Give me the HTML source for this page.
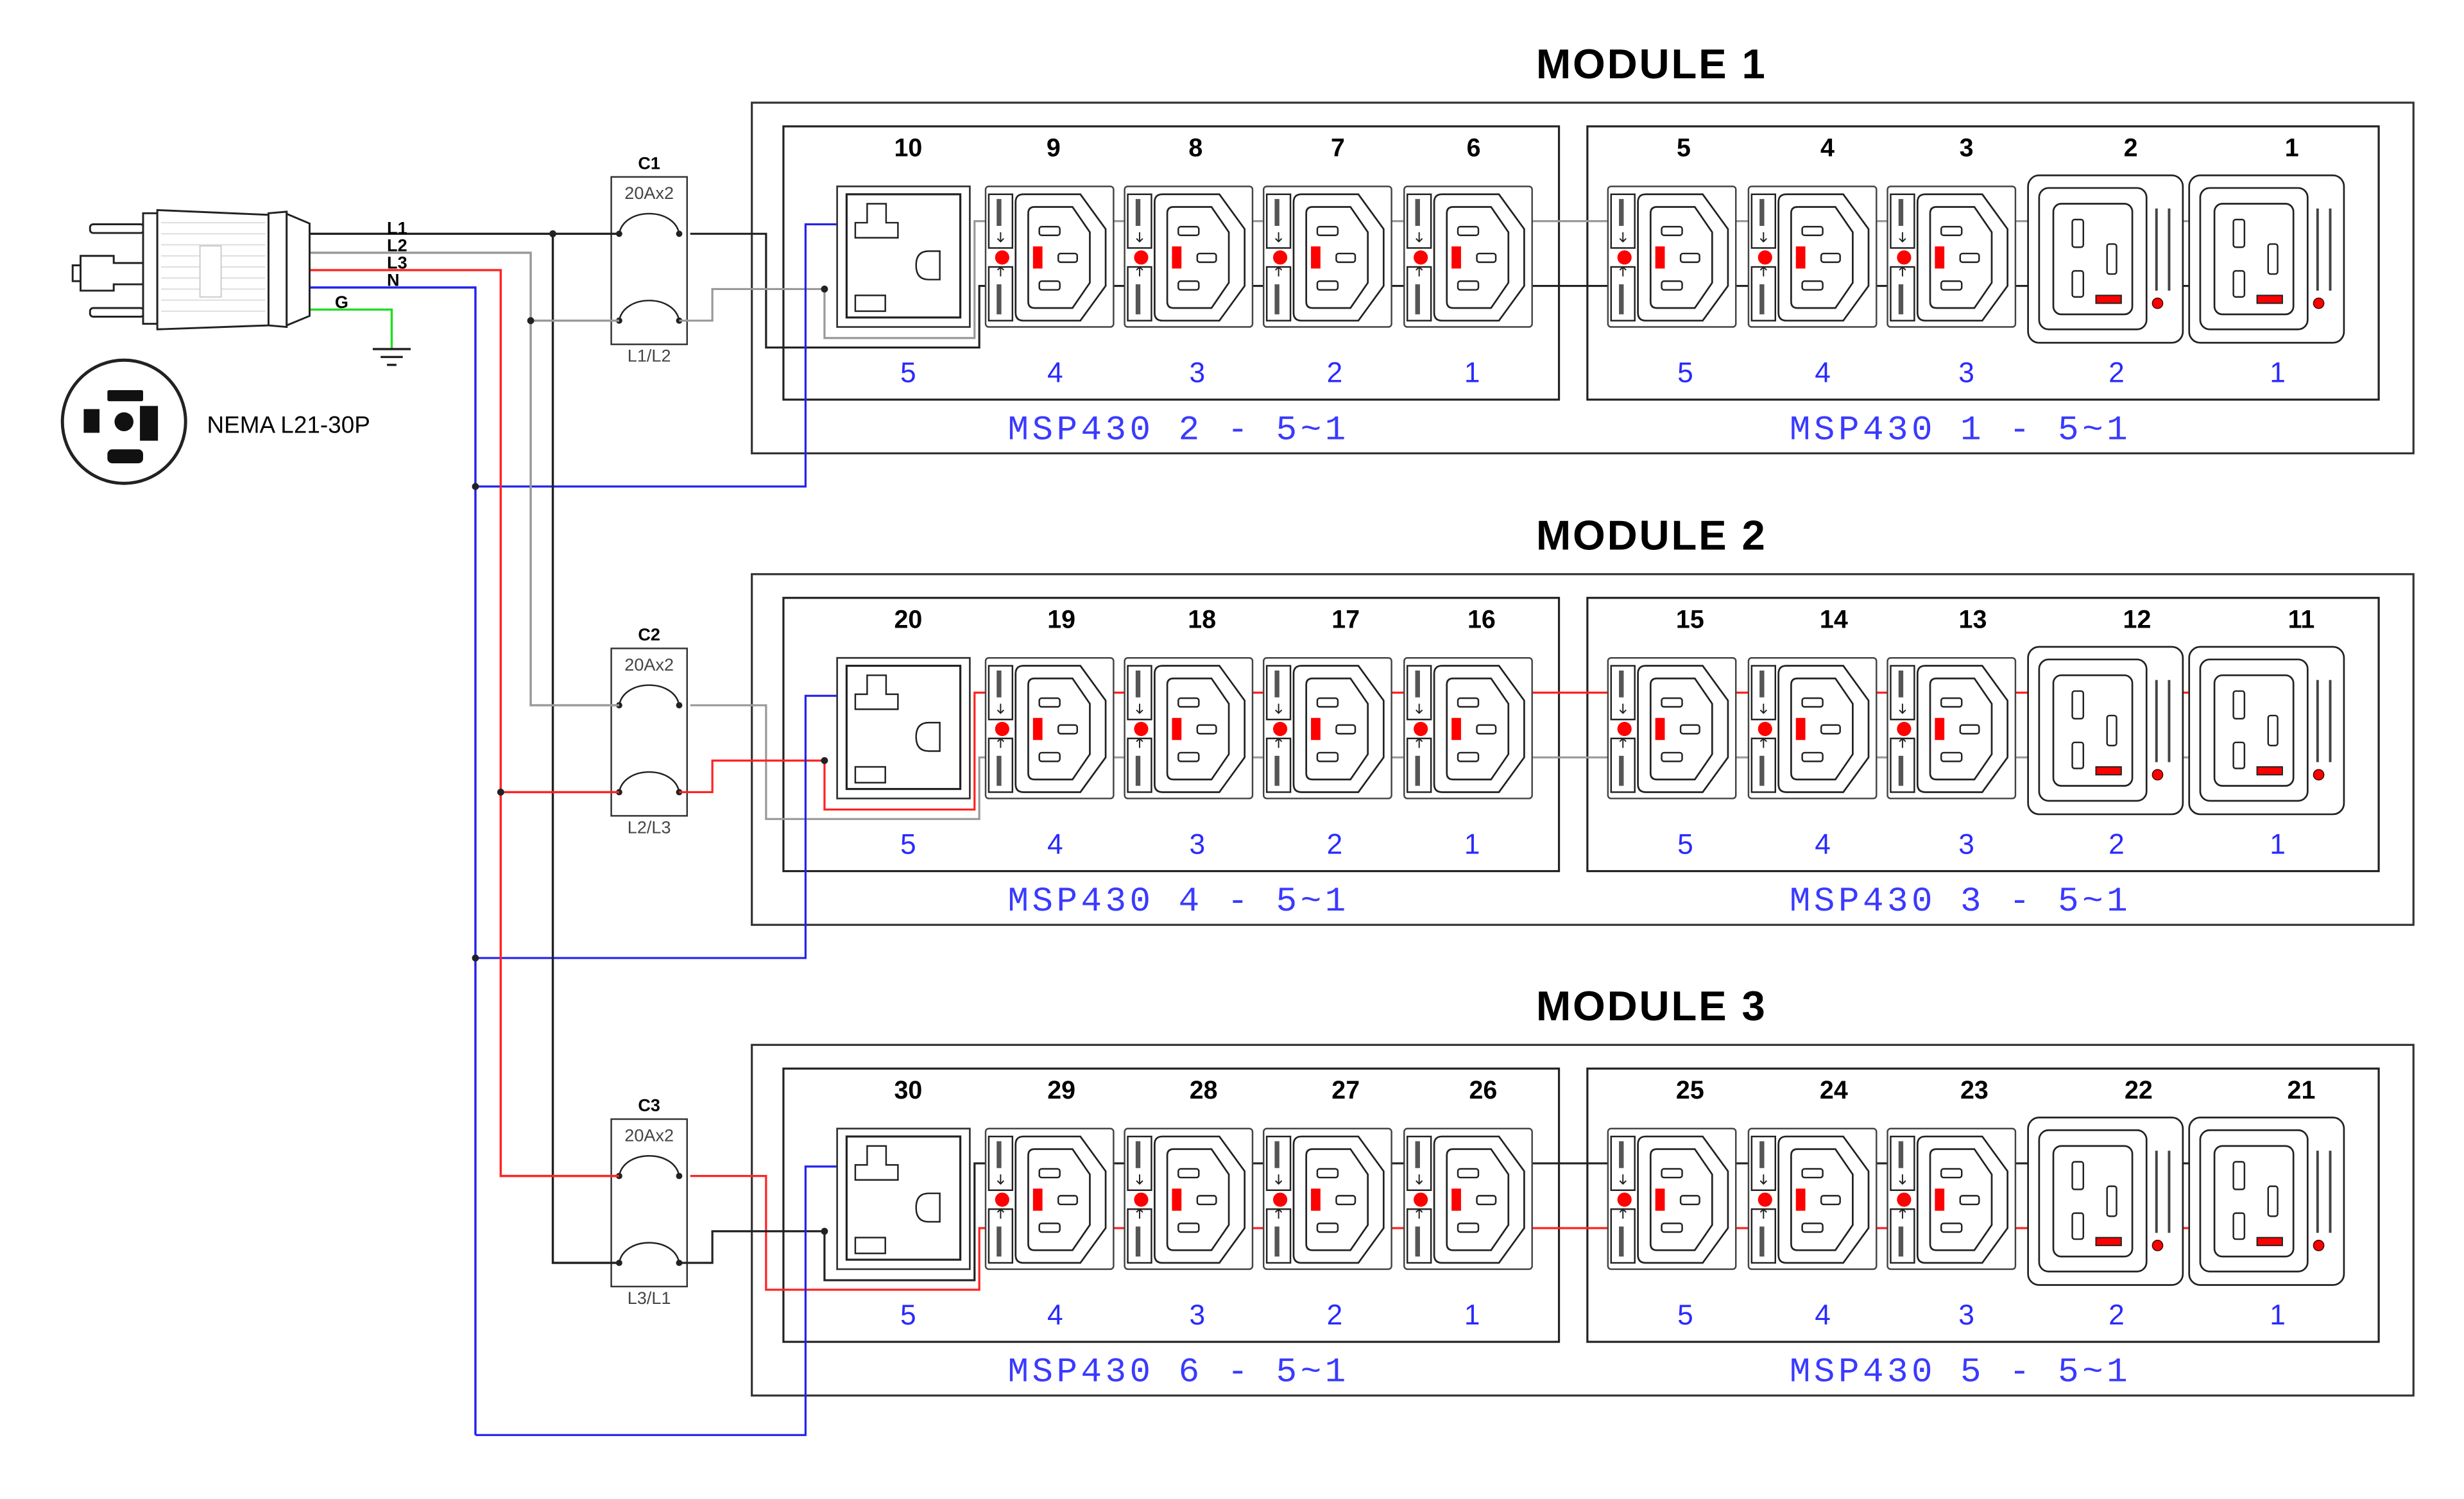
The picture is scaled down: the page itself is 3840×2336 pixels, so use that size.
<!DOCTYPE html>
<html><head><meta charset="utf-8"><style>
html,body{margin:0;padding:0;background:#fff;}
svg{display:block;}
.t{font-family:"Liberation Sans",sans-serif;}
.b{font-family:"Liberation Sans",sans-serif;font-weight:bold;}
.m{font-family:"Liberation Mono",monospace;}
</style></head><body>
<svg width="3840" height="2336" viewBox="0 0 1560 949" preserveAspectRatio="none" xmlns="http://www.w3.org/2000/svg">
<defs>
 <g id="c13">
  <rect x="0" y="0" width="81" height="89" rx="2" fill="#fff" stroke="#444" stroke-width="1"/>
  <rect x="2" y="5" width="15" height="34" fill="#fff" stroke="#222" stroke-width="1"/>
  <rect x="2" y="51" width="15" height="34" fill="#fff" stroke="#222" stroke-width="1"/>
  <rect x="7" y="8" width="3" height="17" fill="#555"/>
  <rect x="7" y="62" width="3" height="19" fill="#555"/>
  <path d="M9.5,29 v6 M7.5,33 l2,2 l2,-2 M9.5,57 v-6 M7.5,53 l2,-2 l2,2" stroke="#222" stroke-width="0.8" fill="none"/>
  <circle cx="10.5" cy="45" r="4.5" fill="#f00"/>
  <path d="M24,5 H60 L76,27 V63 L60,85 H24 Q19,85 19,80 V10 Q19,5 24,5 Z" fill="#fff" stroke="#222" stroke-width="1.1"/>
  <path d="M31,13 H55 L66,29 V61 L55,77 H31 Q27,77 27,73 V17 Q27,13 31,13 Z" fill="#fff" stroke="#222" stroke-width="1.1"/>
  <rect x="34" y="25.5" width="13" height="5.5" rx="1.5" fill="#fff" stroke="#222" stroke-width="1"/>
  <rect x="46" y="42.5" width="12" height="5.5" rx="1.5" fill="#fff" stroke="#222" stroke-width="1"/>
  <rect x="34" y="60" width="13" height="5.5" rx="1.5" fill="#fff" stroke="#222" stroke-width="1"/>
  <rect x="30" y="38" width="6" height="14" fill="#f00"/>
 </g>
 <g id="c19">
  <rect x="0" y="0" width="98" height="106" rx="7" fill="#fff" stroke="#222" stroke-width="1.1"/>
  <rect x="7" y="8" width="68" height="89.5" rx="6" fill="#fff" stroke="#222" stroke-width="1.1"/>
  <rect x="16" y="18" width="50" height="70" rx="5" fill="#fff" stroke="#222" stroke-width="1.1"/>
  <rect x="28" y="28" width="7" height="17.5" rx="1.5" fill="#fff" stroke="#222" stroke-width="1"/>
  <rect x="50" y="43.5" width="6" height="19" rx="1.5" fill="#fff" stroke="#222" stroke-width="1"/>
  <rect x="28" y="60.5" width="7" height="16.5" rx="1.5" fill="#fff" stroke="#222" stroke-width="1"/>
  <rect x="43" y="76" width="16" height="5" fill="#f00" stroke="#222" stroke-width="0.8"/>
  <rect x="80.5" y="21" width="1.6" height="52" fill="#444"/>
  <rect x="88.5" y="21" width="1.6" height="52" fill="#444"/>
  <circle cx="82" cy="81" r="3.3" fill="#f00" stroke="#400" stroke-width="0.6"/>
 </g>
 <g id="r10">
  <rect x="0" y="0" width="84" height="89" fill="#fff" stroke="#333" stroke-width="1.1"/>
  <rect x="6" y="5" width="72" height="78" fill="#fff" stroke="#222" stroke-width="1.3"/>
  <path d="M19,11 H31 V23 H38.5 V32.5 H11.5 V23 H19 Z" fill="#fff" stroke="#222" stroke-width="1"/>
  <path d="M65,41 H58 Q50,41 50,50 Q50,59 58,59 H65 Z" fill="#fff" stroke="#222" stroke-width="1"/>
  <rect x="11.5" y="69" width="19" height="10" fill="#fff" stroke="#222" stroke-width="1"/>
 </g>
 <g id="mod">
  <rect x="476" y="65" width="1052" height="222" fill="none" stroke="#333" stroke-width="1.3"/>
  <rect x="496" y="80" width="491" height="173" fill="none" stroke="#222" stroke-width="1.3"/>
  <rect x="1005" y="80" width="501" height="173" fill="none" stroke="#222" stroke-width="1.3"/>
  <rect x="387" y="112" width="48" height="106" fill="#fff" stroke="#333" stroke-width="1"/>
  <path d="M392,148 C395,131 427,131 430,148 M392,203 C395,186 427,186 430,203" fill="none" stroke="#222" stroke-width="1"/>
  <circle cx="392" cy="148" r="2" fill="#222"/><circle cx="430" cy="148" r="2" fill="#222"/>
  <circle cx="392" cy="203" r="2" fill="#222"/><circle cx="430" cy="203" r="2" fill="#222"/>
  <text x="411" y="126" class="t" font-size="11" fill="#444" text-anchor="middle">20Ax2</text>
 </g>
 <g id="outs">
  <use href="#r10" x="530" y="118"/>
  <use href="#c13" x="624" y="118"/>
  <use href="#c13" x="712" y="118"/>
  <use href="#c13" x="800" y="118"/>
  <use href="#c13" x="889" y="118"/>
  <use href="#c13" x="1018" y="118"/>
  <use href="#c13" x="1107" y="118"/>
  <use href="#c13" x="1195" y="118"/>
  <use href="#c19" x="1284" y="111"/>
  <use href="#c19" x="1386" y="111"/>
  <g class="t" font-size="18" fill="#2a2aff" text-anchor="middle">
   <text x="575" y="242">5</text><text x="668" y="242">4</text><text x="758" y="242">3</text><text x="845" y="242">2</text><text x="932" y="242">1</text>
   <text x="1067" y="242">5</text><text x="1154" y="242">4</text><text x="1245" y="242">3</text><text x="1340" y="242">2</text><text x="1442" y="242">1</text>
  </g>
 </g>
</defs>

<!-- MODULE 1 -->
<g>
 <use href="#mod"/>
 <text x="1045" y="49.5" class="b" font-size="26.5" text-anchor="middle" textLength="145">MODULE 1</text>
 <text x="411" y="107" class="b" font-size="11" text-anchor="middle">C1</text>
 <text x="411" y="229" class="t" font-size="11" fill="#444" text-anchor="middle">L1/L2</text>
 <path d="M437,148 H485 V220 H620 V181 H1386" fill="none" stroke="#222" stroke-width="1.3"/>
 <path d="M430,203 H451 V183 H522 V214 H617 V140 H1386" fill="none" stroke="#999" stroke-width="1.3"/>
 <path d="M301,308 H510 V142 H530" fill="none" stroke="#2222ee" stroke-width="1.3"/>
 <circle cx="522" cy="183" r="2.2" fill="#222"/>
 <use href="#outs"/>
 <g class="b" font-size="16" text-anchor="middle">
  <text x="575" y="99">10</text><text x="667" y="99">9</text><text x="757" y="99">8</text><text x="847" y="99">7</text><text x="933" y="99">6</text>
  <text x="1066" y="99">5</text><text x="1157" y="99">4</text><text x="1245" y="99">3</text><text x="1349" y="99">2</text><text x="1451" y="99">1</text>
 </g>
 <text x="745" y="278" class="m" font-size="22" fill="#3a3aff" text-anchor="middle" textLength="214">MSP430 2 - 5~1</text>
 <text x="1240" y="278" class="m" font-size="22" fill="#3a3aff" text-anchor="middle" textLength="214">MSP430 1 - 5~1</text>
</g>

<!-- MODULE 2 -->
<g transform="translate(0,298.5)">
 <use href="#mod"/>
 <text x="1045" y="49.5" class="b" font-size="26.5" text-anchor="middle" textLength="145">MODULE 2</text>
 <text x="411" y="107" class="b" font-size="11" text-anchor="middle">C2</text>
 <text x="411" y="229" class="t" font-size="11" fill="#444" text-anchor="middle">L2/L3</text>
 <path d="M437,148 H485 V220 H620 V181 H1386" fill="none" stroke="#999" stroke-width="1.3"/>
 <path d="M430,203 H451 V183 H522 V214 H617 V140 H1386" fill="none" stroke="#f22" stroke-width="1.3"/>
 <path d="M301,308 H510 V142 H530" fill="none" stroke="#2222ee" stroke-width="1.3"/>
 <circle cx="522" cy="183" r="2.2" fill="#222"/>
 <use href="#outs"/>
 <g class="b" font-size="16" text-anchor="middle">
  <text x="575" y="99">20</text><text x="672" y="99">19</text><text x="761" y="99">18</text><text x="852" y="99">17</text><text x="938" y="99">16</text>
  <text x="1070" y="99">15</text><text x="1161" y="99">14</text><text x="1249" y="99">13</text><text x="1353" y="99">12</text><text x="1457" y="99">11</text>
 </g>
 <text x="745" y="278" class="m" font-size="22" fill="#3a3aff" text-anchor="middle" textLength="214">MSP430 4 - 5~1</text>
 <text x="1240" y="278" class="m" font-size="22" fill="#3a3aff" text-anchor="middle" textLength="214">MSP430 3 - 5~1</text>
</g>

<!-- MODULE 3 -->
<g transform="translate(0,596.5)">
 <use href="#mod"/>
 <text x="1045" y="49.5" class="b" font-size="26.5" text-anchor="middle" textLength="145">MODULE 3</text>
 <text x="411" y="107" class="b" font-size="11" text-anchor="middle">C3</text>
 <text x="411" y="229" class="t" font-size="11" fill="#444" text-anchor="middle">L3/L1</text>
 <path d="M437,148 H485 V220 H620 V181 H1386" fill="none" stroke="#f22" stroke-width="1.3"/>
 <path d="M430,203 H451 V183 H522 V214 H617 V140 H1386" fill="none" stroke="#222" stroke-width="1.3"/>
 <path d="M301,312 H510 V142 H530" fill="none" stroke="#2222ee" stroke-width="1.3"/>
 <circle cx="522" cy="183" r="2.2" fill="#222"/>
 <use href="#outs"/>
 <g class="b" font-size="16" text-anchor="middle">
  <text x="575" y="99">30</text><text x="672" y="99">29</text><text x="762" y="99">28</text><text x="852" y="99">27</text><text x="939" y="99">26</text>
  <text x="1070" y="99">25</text><text x="1161" y="99">24</text><text x="1250" y="99">23</text><text x="1354" y="99">22</text><text x="1457" y="99">21</text>
 </g>
 <text x="745" y="278" class="m" font-size="22" fill="#3a3aff" text-anchor="middle" textLength="214">MSP430 6 - 5~1</text>
 <text x="1240" y="278" class="m" font-size="22" fill="#3a3aff" text-anchor="middle" textLength="214">MSP430 5 - 5~1</text>
</g>

<!-- main feed wires -->
<path d="M196,148 H392" stroke="#222" stroke-width="1.4" fill="none"/>
<path d="M350,148 V799.5 H392" stroke="#222" stroke-width="1.4" fill="none"/>
<path d="M196,160 H336 V446.5 H392 M336,203 H392" stroke="#999" stroke-width="1.4" fill="none"/>
<path d="M196,171 H317 V744.5 H392 M317,501.5 H392" stroke="#f22" stroke-width="1.4" fill="none"/>
<path d="M196,182 H301 V908.5" stroke="#2222ee" stroke-width="1.4" fill="none"/>
<path d="M196,196 H248 V221" stroke="#22dd22" stroke-width="1.4" fill="none"/>
<path d="M236,221 H260 M241,226 H255 M245,231 H251" stroke="#222" stroke-width="1.4"/>
<g fill="#222">
 <circle cx="350" cy="148" r="2.2"/><circle cx="336" cy="203" r="2.2"/><circle cx="317" cy="501.5" r="2.2"/>
 <circle cx="301" cy="308" r="2.2"/><circle cx="301" cy="606.5" r="2.2"/>
</g>
<g class="b" font-size="11">
 <text x="245" y="148">L1</text><text x="245" y="159">L2</text><text x="245" y="170">L3</text><text x="245" y="181">N</text><text x="212" y="195">G</text>
</g>

<!-- plug -->
<g stroke="#222" stroke-width="1.2" fill="#fff">
 <rect x="57" y="142" width="34" height="5.5" rx="2"/>
 <rect x="57" y="195" width="34" height="5.5" rx="2"/>
 <path d="M72,166.5 V162 H51 V184 H72 V180 H91 V166.5 Z"/>
 <path d="M51,168 H46 V178 H51" fill="none"/>
 <rect x="90.6" y="135" width="9" height="70"/>
 <path d="M99.6,133 L170,136 L170,206 L99.6,208.5 Z"/>
 <path d="M170,135 L181.5,134 L181.5,207 L170,206 Z"/>
 <path d="M181.5,135.4 L196,141.5 L196,200 L181.5,206 Z"/>
</g>
<g stroke="#ddd" stroke-width="0.8">
 <path d="M102,141 H168 M102,148 H168 M102,155 H168 M102,162 H168 M102,169 H168 M102,176 H168 M102,183 H168 M102,190 H168 M102,197 H168"/>
</g>
<rect x="126.6" y="155.7" width="13.4" height="32.3" fill="#fff" stroke="#ccc" stroke-width="0.8"/>

<!-- NEMA L21-30P -->
<circle cx="78.5" cy="267" r="39" fill="#fff" stroke="#222" stroke-width="2"/>
<circle cx="78.5" cy="267" r="6" fill="#111"/>
<g fill="#111">
 <rect x="68" y="247" width="22.6" height="7" rx="1"/>
 <rect x="68" y="284.5" width="22.6" height="8.8" rx="3"/>
 <rect x="53" y="259" width="10" height="15"/>
 <rect x="88.6" y="257" width="11.4" height="22"/>
</g>
<text x="131" y="274" class="t" font-size="15">NEMA L21-30P</text>
</svg>
</body></html>
